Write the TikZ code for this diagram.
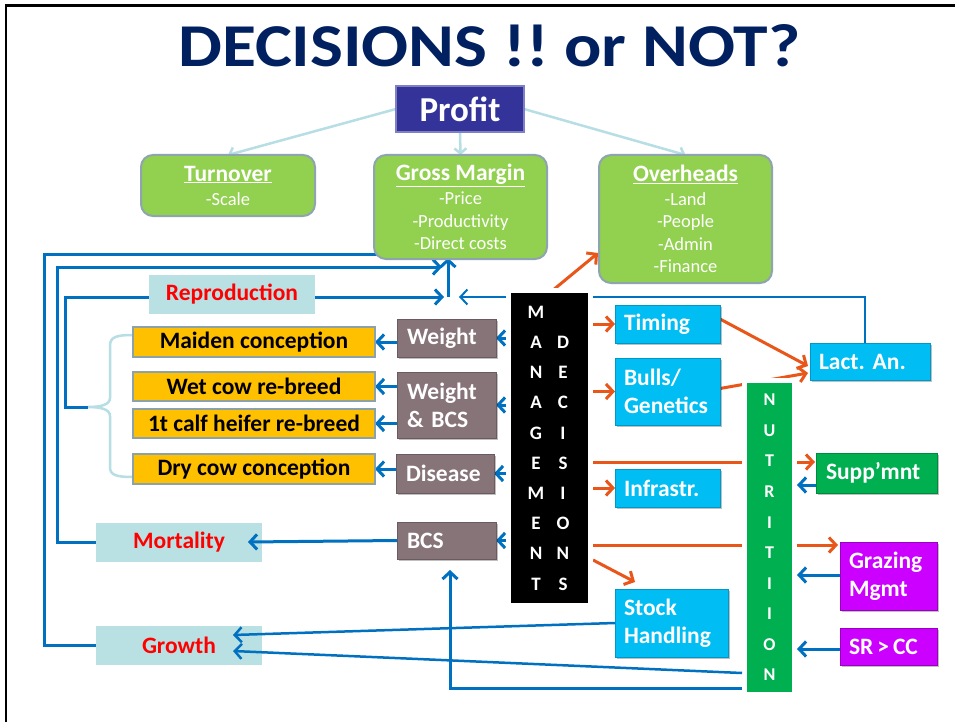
\documentclass[tikz,border=0pt]{standalone}
\usepackage{graphicx}
\usepackage{fontspec}
\setmainfont{Carlito}
\usetikzlibrary{arrows.meta,backgrounds,shadows}
\definecolor{navy}{HTML}{002060}
\definecolor{profitblue}{HTML}{333399}
\definecolor{profitborder}{HTML}{7F7FC4}
\definecolor{gmgreen}{HTML}{92D050}
\definecolor{gborder}{HTML}{8EA4AE}
\definecolor{lblue}{HTML}{B7DEE4}
\definecolor{repbox}{HTML}{B9E0E3}
\definecolor{amber}{HTML}{FFC000}
\definecolor{oborder}{HTML}{8BA2AA}
\definecolor{brownbox}{HTML}{877479}
\definecolor{brownborder}{HTML}{6B5A60}
\definecolor{cyanbox}{HTML}{00BDF4}
\definecolor{cyanborder}{HTML}{0098C8}
\definecolor{nutgreen}{HTML}{00B050}
\definecolor{suppborder}{HTML}{008A3E}
\definecolor{magbox}{HTML}{CC00FF}
\definecolor{magborder}{HTML}{9A00C0}
\definecolor{arrblue}{HTML}{0070C0}
\definecolor{arrorange}{HTML}{E8561A}
\newcommand\bx[7]{\node[boxbase,minimum width=#4pt,minimum height=#5pt,#6] (#1) at (#2,#3) {#7};}
\newcommand\hd[1]{{\fontsize{23.5}{26}\selectfont\bfseries\underline{#1}}}
\newcommand\mrow[2]{\makebox[27pt]{#1}\makebox[27pt]{#2}}
\tikzset{
  boxbase/.style={anchor=north west, inner sep=0pt, outer sep=0pt},
  gbox/.style={rounded corners=12pt, fill=gmgreen, draw=gborder, line width=2pt, text=white, align=center, font=\fontsize{18.5}{22.5}\selectfont},
  rbox/.style={fill=repbox, text=red, font=\fontsize{23.5}{26}\selectfont\bfseries},
  obox/.style={fill=amber, draw=oborder, line width=1.5pt, text=black, font=\fontsize{23.5}{26}\selectfont\bfseries},
  shad/.style={drop shadow={shadow xshift=2pt, shadow yshift=-2pt, fill=black, opacity=.25}},
  brbox/.style={shad, fill=brownbox, draw=brownborder, line width=1pt, text=white, align=left, font=\fontsize{23.5}{28}\selectfont\bfseries},
  cbox/.style={shad, fill=cyanbox, draw=cyanborder, line width=1pt, text=white, align=left, font=\fontsize{23.5}{28}\selectfont\bfseries},
  mbox/.style={shad, fill=magbox, draw=magborder, line width=1pt, text=white, align=left, font=\fontsize{23.5}{28}\selectfont\bfseries},
  sbox/.style={shad, fill=nutgreen, draw=suppborder, line width=1pt, text=white, align=left, font=\fontsize{23.5}{28}\selectfont\bfseries},
  mbk/.style={fill=black, preaction={draw=white, line width=10pt}, text=white, align=center, font=\fontsize{19}{30.2}\selectfont\bfseries},
  nbk/.style={fill=nutgreen, preaction={draw=white, line width=10pt}, text=white, align=center, font=\fontsize{18}{30.55}\selectfont\bfseries},
  bconn/.style={draw=arrblue, line width=3pt, -{Straight Barb[length=7pt,width=15pt]}},
  oconn/.style={draw=arrorange, line width=3pt, -{Straight Barb[length=7pt,width=15pt]}},
  lbconn/.style={draw=lblue, line width=2.5pt, -{Straight Barb[length=5pt,width=12pt]}},
  bracestyle/.style={draw=lblue, line width=2.5pt}
}
\begin{document}
\frenchspacing
\begin{tikzpicture}[x=1pt,y=-1pt]
\useasboundingbox (0,0) rectangle (955,722);
% frame
\draw[black,line width=2.5pt] (6,722) -- (6,5.5) -- (955,5.5);
% title
\node[anchor=base west, inner sep=0pt, text=navy] (title) at (178,67) {\resizebox{622pt}{42pt}{\bfseries DECISIONS !! or NOT?}};
% top
\bx{profit}{396}{86}{128}{46}{fill=profitblue,draw=profitborder,line width=1.5pt,text=white,font=\fontsize{35}{35}\selectfont\bfseries}{Profit}
\bx{turnover}{141}{155}{174}{61}{gbox}{\hd{Turnover}\\[1.5pt]-Scale}
\bx{gm}{374}{155}{173}{104}{gbox}{\hd{Gross Margin}\\[1.5pt]-Price\\-Productivity\\-Direct costs}
\bx{oh}{599}{155}{173}{128}{gbox}{\hd{Overheads}\\[1.5pt]-Land\\-People\\-Admin\\-Finance}
% red label boxes
\bx{repro}{149}{275}{166}{39}{rbox}{Reproduction}
\bx{mort}{96}{523}{166}{39}{rbox}{Mortality}
\bx{growth}{96}{626}{166}{39}{rbox}{Growth}
% orange boxes
\bx{maiden}{133}{327}{242}{30}{obox}{Maiden conception}
\bx{wet}{133}{372}{242}{29}{obox}{Wet cow re-breed}
\bx{heifer}{133}{409}{242}{29}{obox}{1t calf heifer re-breed}
\bx{dry}{133}{454}{242}{30}{obox}{Dry cow conception}
% brown boxes
\bx{weight}{397}{319}{99}{38}{brbox,text width=79pt}{Weight}
\bx{wbcs}{397}{372}{99}{66}{brbox,text width=79pt}{Weight\\\& BCS}
\bx{disease}{396}{454}{98}{39}{brbox,text width=78pt}{Disease}
\bx{bcs}{397}{522}{99}{37}{brbox,text width=79pt}{BCS}
% management
\bx{mgmt}{511}{293}{77}{310}{mbk}{\mrow{M}{}\\\mrow{A}{D}\\\mrow{N}{E}\\\mrow{A}{C}\\\mrow{G}{I}\\\mrow{E}{S}\\\mrow{M}{I}\\\mrow{E}{O}\\\mrow{N}{N}\\\mrow{T}{S}}
% cyan boxes
\bx{timing}{615}{305}{105}{38}{cbox,text width=87pt}{Timing}
\bx{bulls}{615}{358}{105}{67}{cbox,text width=87pt}{Bulls/\\Genetics}
\bx{infra}{615}{469}{105}{38}{cbox,text width=87pt}{Infrastr.}
\bx{stock}{615}{589}{113}{68}{cbox,text width=95pt}{Stock\\Handling}
\bx{lact}{810}{343}{120}{37}{cbox,text width=102pt}{Lact. An.}
% nutrition
\bx{nut}{747}{383}{45}{309}{nbk}{N\\U\\T\\R\\I\\T\\I\\I\\O\\N}
% right boxes
\bx{supp}{816}{453}{121}{40}{sbox,text width=101pt}{Supp’mnt}
\bx{graz}{840}{542}{97}{68}{mbox,text width=79pt}{Grazing\\Mgmt}
\bx{sr}{840}{628}{97}{37}{mbox,text width=79pt}{SR\hspace{4pt}>\hspace{4pt}CC}
% coordinates
\coordinate (gmin1) at (442,254);
\coordinate (gmin2) at (442,267);
\coordinate (repin) at (444,297);
\coordinate (gmjoin) at (448,297);
\coordinate (gmin3) at (448,258);
\coordinate (lactin) at (459,297);
\coordinate (bracetip) at (88,407);
\coordinate (mortin) at (248,542);
\coordinate (growin1) at (233,635);
\coordinate (growin2) at (233,651);
\coordinate (nutout1) at (742,673);
\coordinate (nutout2) at (747,688);
\coordinate (bcsin) at (450,570);
\coordinate (ohin) at (598,253);
\coordinate (lactin1) at (808,366);
\coordinate (lactin2) at (808,373);
\coordinate (suppin) at (815,462);
\coordinate (grazin) at (838,545);
\coordinate (mgstock) at (593,560);
\coordinate (stockin) at (635,582);
\coordinate (nutin1) at (797,485);
\coordinate (nutin2) at (797,575);
\coordinate (nutin3) at (797,649);
\begin{scope}[on background layer]
\fill[white] (0,0) rectangle (955,722);
% profit links
\draw[lbconn] (profit.west) -- (turnover.north);
\draw[lbconn] (profit.south) -- (gm.north);
\draw[lbconn] (profit.east) -- (oh.north);
% brace
\draw[bracestyle] (133,335) .. controls (116,335) and (110,337) .. (110,346) -- (110,398) .. controls (110,405) and (100,407) .. (bracetip) .. controls (100,407) and (110,409) .. (110,416) -- (110,467) .. controls (110,475) and (116,477) .. (133,477);
% blue loops
\draw[bconn] (growth.west) -- ++(-52,0) |- (gmin1);
\draw[bconn] (mort.west) -- ++(-39,0) |- (gmin2);
\draw[bconn] (bracetip) -- ++(-23,0) |- (repin);
\draw[bconn] (gmjoin) -- (gmin3);
\draw[bconn,line width=2pt] ([xshift=-5pt]lact.north) |- (lactin);
\draw[bconn] (nutout2) -| (bcsin);
% management to brown
\draw[bconn] (mgmt.west |- weight.east) -- (weight.east);
\draw[bconn] (mgmt.west |- wbcs.east) -- (wbcs.east);
\draw[bconn] (mgmt.west |- disease.east) -- (disease.east);
\draw[bconn] (mgmt.west |- bcs.east) -- (bcs.east);
% brown to orange
\draw[bconn] (weight.west |- maiden.east) -- (maiden.east);
\draw[bconn] (wbcs.west |- wet.east) -- (wet.east);
\draw[bconn] (wbcs.west |- heifer.east) -- (heifer.east);
\draw[bconn] (disease.west |- dry.east) -- (dry.east);
% right boxes to nutrition
\draw[bconn] (supp.west |- nutin1) -- (nutin1);
\draw[bconn] (graz.west |- nutin2) -- (nutin2);
\draw[bconn] (sr.west |- nutin3) -- (nutin3);
% orange
\draw[oconn] (mgmt.north) -- (ohin);
\draw[oconn] (mgmt.east |- timing.west) -- (timing.west);
\draw[oconn] (mgmt.east |- bulls.west) -- (bulls.west);
\draw[oconn] (mgmt.east |- infra.west) -- (infra.west);
\draw[oconn] ([yshift=5pt]timing.east) -- (lactin1);
\draw[oconn] ([yshift=3pt]bulls.east) -- (lactin2);
\draw[oconn] (mgmt.east |- suppin) -- (suppin);
\draw[oconn] (mgmt.east |- grazin) -- (grazin);
\draw[oconn] (mgstock) -- (stockin);
\end{scope}
% arrows whose tips lie over the label boxes
\draw[bconn] (bcs.west) -- (mortin);
\draw[bconn,line width=2.5pt] (stock.west) -- (growin1);
\draw[bconn,line width=2.5pt] (nutout1) -- (growin2);
\end{tikzpicture}
\end{document}
